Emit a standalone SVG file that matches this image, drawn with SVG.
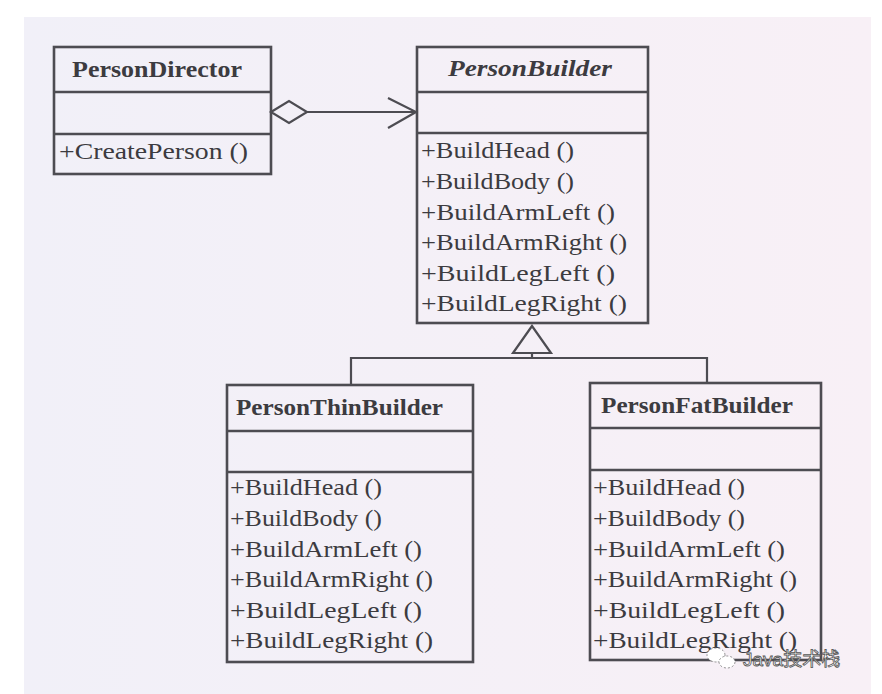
<svg xmlns="http://www.w3.org/2000/svg" width="882" height="694" viewBox="0 0 882 694">
<defs>
<linearGradient id="bg" x1="0" y1="0" x2="1" y2="0">
<stop offset="0" stop-color="#f1f0f8"/>
<stop offset="1" stop-color="#f8f0f6"/>
</linearGradient>
<style>
.box{fill:none;stroke:#4d4c52;stroke-width:2.6}
.ln{fill:none;stroke:#4d4c52;stroke-width:2.2}
.t{font-family:"Liberation Serif","DejaVu Serif",serif;font-size:23px;fill:#3c3b40;font-weight:bold}
.ti{font-family:"Liberation Serif","DejaVu Serif",serif;font-size:23px;fill:#3c3b40;font-style:italic;font-weight:bold}
.m{font-family:"Liberation Serif","DejaVu Serif",serif;font-size:24px;fill:#3c3b40}
.wm{font-family:"Liberation Sans","Noto Sans CJK SC",sans-serif;font-size:19px;fill:#ffffff;stroke:#555;stroke-width:0.8}
</style>
</defs>
<rect x="0" y="0" width="882" height="694" fill="#ffffff"/>
<rect x="24" y="17" width="847" height="677" fill="url(#bg)"/>

<g id="connectors">
<polygon class="ln" points="271,112 289,101 307,112 289,123"/>
<line class="ln" x1="307" y1="112" x2="416" y2="112"/>
<polyline class="ln" points="388,98 416,112 388,128"/>
<polygon class="ln" points="532,326 513,353 551,353"/>
<line class="ln" x1="532" y1="353" x2="532" y2="358"/>
<polyline class="ln" points="351,385 351,358 707,358 707,383"/>
</g>

<g id="PersonDirector">
<rect class="box" x="54" y="47" width="217" height="127"/>
<line class="box" x1="54" y1="92" x2="271" y2="92"/>
<line class="box" x1="54" y1="134" x2="271" y2="134"/>
<text class="t" x="72" y="77" textLength="170" lengthAdjust="spacingAndGlyphs">PersonDirector</text>
<text class="m" x="59" y="159" textLength="189" lengthAdjust="spacingAndGlyphs">+CreatePerson ()</text>
</g>

<g id="PersonBuilder">
<rect class="box" x="417" y="47" width="231" height="276"/>
<line class="box" x1="417" y1="92" x2="648" y2="92"/>
<line class="box" x1="417" y1="133" x2="648" y2="133"/>
<text class="ti" x="448" y="76" textLength="164" lengthAdjust="spacingAndGlyphs">PersonBuilder</text>
<text class="m" x="421" y="158" textLength="153" lengthAdjust="spacingAndGlyphs">+BuildHead ()</text>
<text class="m" x="421" y="189" textLength="153" lengthAdjust="spacingAndGlyphs">+BuildBody ()</text>
<text class="m" x="421" y="220" textLength="194" lengthAdjust="spacingAndGlyphs">+BuildArmLeft ()</text>
<text class="m" x="421" y="250" textLength="206" lengthAdjust="spacingAndGlyphs">+BuildArmRight ()</text>
<text class="m" x="421" y="281" textLength="194" lengthAdjust="spacingAndGlyphs">+BuildLegLeft ()</text>
<text class="m" x="421" y="311" textLength="206" lengthAdjust="spacingAndGlyphs">+BuildLegRight ()</text>
</g>

<g id="PersonThinBuilder">
<rect class="box" x="227" y="385" width="246" height="277"/>
<line class="box" x1="227" y1="431" x2="473" y2="431"/>
<line class="box" x1="227" y1="472" x2="473" y2="472"/>
<text class="t" x="236" y="415" textLength="207" lengthAdjust="spacingAndGlyphs">PersonThinBuilder</text>
<text class="m" x="230" y="495" textLength="152" lengthAdjust="spacingAndGlyphs">+BuildHead ()</text>
<text class="m" x="230" y="526" textLength="152" lengthAdjust="spacingAndGlyphs">+BuildBody ()</text>
<text class="m" x="230" y="557" textLength="192" lengthAdjust="spacingAndGlyphs">+BuildArmLeft ()</text>
<text class="m" x="230" y="587" textLength="203" lengthAdjust="spacingAndGlyphs">+BuildArmRight ()</text>
<text class="m" x="230" y="618" textLength="192" lengthAdjust="spacingAndGlyphs">+BuildLegLeft ()</text>
<text class="m" x="230" y="648" textLength="203" lengthAdjust="spacingAndGlyphs">+BuildLegRight ()</text>
</g>

<g id="PersonFatBuilder">
<rect class="box" x="590" y="383" width="231" height="277"/>
<line class="box" x1="590" y1="428" x2="821" y2="428"/>
<line class="box" x1="590" y1="470" x2="821" y2="470"/>
<text class="t" x="601" y="413" textLength="192" lengthAdjust="spacingAndGlyphs">PersonFatBuilder</text>
<text class="m" x="593" y="495" textLength="152" lengthAdjust="spacingAndGlyphs">+BuildHead ()</text>
<text class="m" x="593" y="526" textLength="152" lengthAdjust="spacingAndGlyphs">+BuildBody ()</text>
<text class="m" x="593" y="557" textLength="192" lengthAdjust="spacingAndGlyphs">+BuildArmLeft ()</text>
<text class="m" x="593" y="587" textLength="204" lengthAdjust="spacingAndGlyphs">+BuildArmRight ()</text>
<text class="m" x="593" y="618" textLength="192" lengthAdjust="spacingAndGlyphs">+BuildLegLeft ()</text>
<text class="m" x="593" y="648" textLength="204" lengthAdjust="spacingAndGlyphs">+BuildLegRight ()</text>
</g>

<g id="watermark">
<ellipse cx="716" cy="655" rx="9" ry="7" fill="#ffffff" stroke="#777" stroke-width="0.8" stroke-dasharray="2,2"/>
<ellipse cx="727" cy="662" rx="8" ry="6" fill="#ffffff" stroke="#777" stroke-width="0.8" stroke-dasharray="2,2"/>
<text class="wm" x="743" y="666">Java技术栈</text>
</g>
</svg>
